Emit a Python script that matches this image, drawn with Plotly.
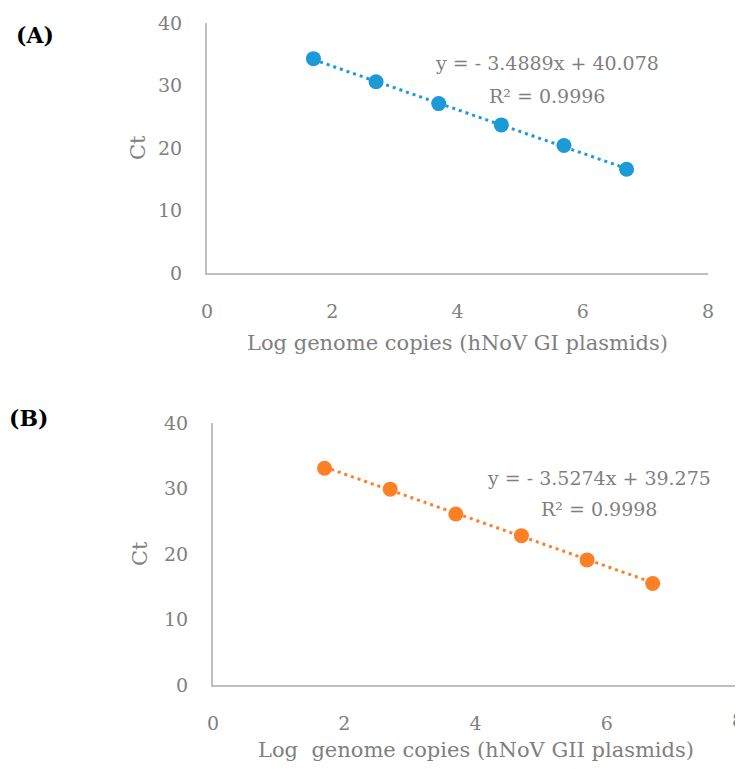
import plotly.graph_objects as go

# ---- data ----
log_copies = [1.7, 2.7, 3.7, 4.7, 5.7, 6.7]
ct_gi = [34.3, 30.6, 27.1, 23.7, 20.4, 16.6]
ct_gii = [33.1, 29.9, 26.1, 22.8, 19.1, 15.5]
fit_gi = (-3.4889, 40.078)
fit_gii = (-3.5274, 39.275)
eq_gi = ["y = - 3.4889x + 40.078", "R² = 0.9996"]
eq_gii = ["y = - 3.5274x + 39.275", "R² = 0.9998"]
xlab_gi = "Log genome copies (hNoV GI plasmids)"
xlab_gii = "Log\u00a0 genome copies (hNoV GII plasmids)"
x_ticks = [0, 2, 4, 6, 8]
y_ticks = [0, 10, 20, 30, 40]

OFF = 8  # page body margin
W, H = 743 - OFF, 769 - OFF
FONT = "DejaVu Serif"
FS = 19
FS_TITLE = 21
GRAY = "#7f7f7f"
AX = "#bfbfbf"
BLUE = "#1b9ad7"
ORANGE = "#fd7f26"

def px(x):
    return (x - OFF) / W

def py(y):
    return 1 - (y - OFF) / H

fig = go.Figure()

panels = [
    dict(ct=ct_gi, fit=fit_gi, eq=eq_gi, xlab=xlab_gi, color=BLUE,
         xs=(207, 708), ys=(23, 273), xa="x", ya="y",
         eqx=547, eqy=(63, 96), xtitle_y=343, ytitle_x=138, tag="(A)", tagxy=(35, 35)),
    dict(ct=ct_gii, fit=fit_gii, eq=eq_gii, xlab=xlab_gii, color=ORANGE,
         xs=(213, 738), ys=(423, 685), xa="x2", ya="y2",
         eqx=599, eqy=(478, 509), xtitle_y=750, ytitle_x=140, tag="(B)", tagxy=(28, 418)),
]

annotations = []
for i, p in enumerate(panels):
    m, b = p["fit"]
    xt = [min(log_copies), max(log_copies)]
    yt = [m * v + b for v in xt]
    fig.add_trace(go.Scatter(x=xt, y=yt, mode="lines", xaxis=p["xa"], yaxis=p["ya"],
                             line=dict(color=p["color"], width=3, dash="3px,4px"),
                             showlegend=False, hoverinfo="skip"))
    fig.add_trace(go.Scatter(x=log_copies, y=p["ct"], mode="markers", xaxis=p["xa"], yaxis=p["ya"],
                             marker=dict(color=p["color"], size=15), showlegend=False))
    sfx = "" if i == 0 else "2"
    axis_common = dict(showline=True, linecolor=AX, linewidth=2, showgrid=False, zeroline=False,
                       ticks="", automargin=False,
                       tickfont=dict(family=FONT, size=FS, color=GRAY))
    fig.update_layout(**{
        "xaxis" + sfx: dict(domain=[px(p["xs"][0]), px(p["xs"][1])], range=[0, 8],
                            tickvals=x_ticks, anchor="y" + sfx, ticklabelstandoff=20,
                            **axis_common),
        "yaxis" + sfx: dict(domain=[py(p["ys"][1]), py(p["ys"][0])], range=[0, 40],
                            tickvals=y_ticks, anchor="x" + sfx, ticklabelstandoff=19,
                            **axis_common),
    })
    cx = (p["xs"][0] + p["xs"][1]) / 2
    annotations += [
        dict(text=p["eq"][0], x=px(p["eqx"]), y=py(p["eqy"][0]), xref="paper", yref="paper",
             showarrow=False, xanchor="center", yanchor="middle",
             font=dict(family=FONT, size=FS, color=GRAY)),
        dict(text=p["eq"][1], x=px(p["eqx"]), y=py(p["eqy"][1]), xref="paper", yref="paper",
             showarrow=False, xanchor="center", yanchor="middle",
             font=dict(family=FONT, size=FS, color=GRAY)),
        dict(text=p["xlab"], x=px(cx), y=py(p["xtitle_y"]), xref="paper", yref="paper",
             showarrow=False, xanchor="center", yanchor="middle",
             font=dict(family=FONT, size=FS_TITLE, color=GRAY)),
        dict(text="Ct", x=px(p["ytitle_x"]), y=py((p["ys"][0] + p["ys"][1]) / 2), xref="paper", yref="paper",
             showarrow=False, xanchor="center", yanchor="middle", textangle=-90,
             font=dict(family=FONT, size=FS_TITLE, color=GRAY)),
        dict(text="<b>" + p["tag"] + "</b>", x=px(p["tagxy"][0]), y=py(p["tagxy"][1]), xref="paper", yref="paper",
             showarrow=False, xanchor="center", yanchor="middle",
             font=dict(family=FONT, size=22, color="black")),
    ]

# last x tick label of panel B sits at the page edge (partly cut off in the original)
annotations.append(dict(text=str(x_ticks[-1]), x=x_ticks[-1], xref="x2", y=py(720), yref="paper",
                        showarrow=False, xanchor="center", yanchor="middle",
                        font=dict(family=FONT, size=FS, color=GRAY)))

fig.update_layout(width=W, height=H, margin=dict(l=0, r=0, t=0, b=0),
                  paper_bgcolor="white", plot_bgcolor="white",
                  annotations=annotations, showlegend=False)

fig.write_html("out.html")
